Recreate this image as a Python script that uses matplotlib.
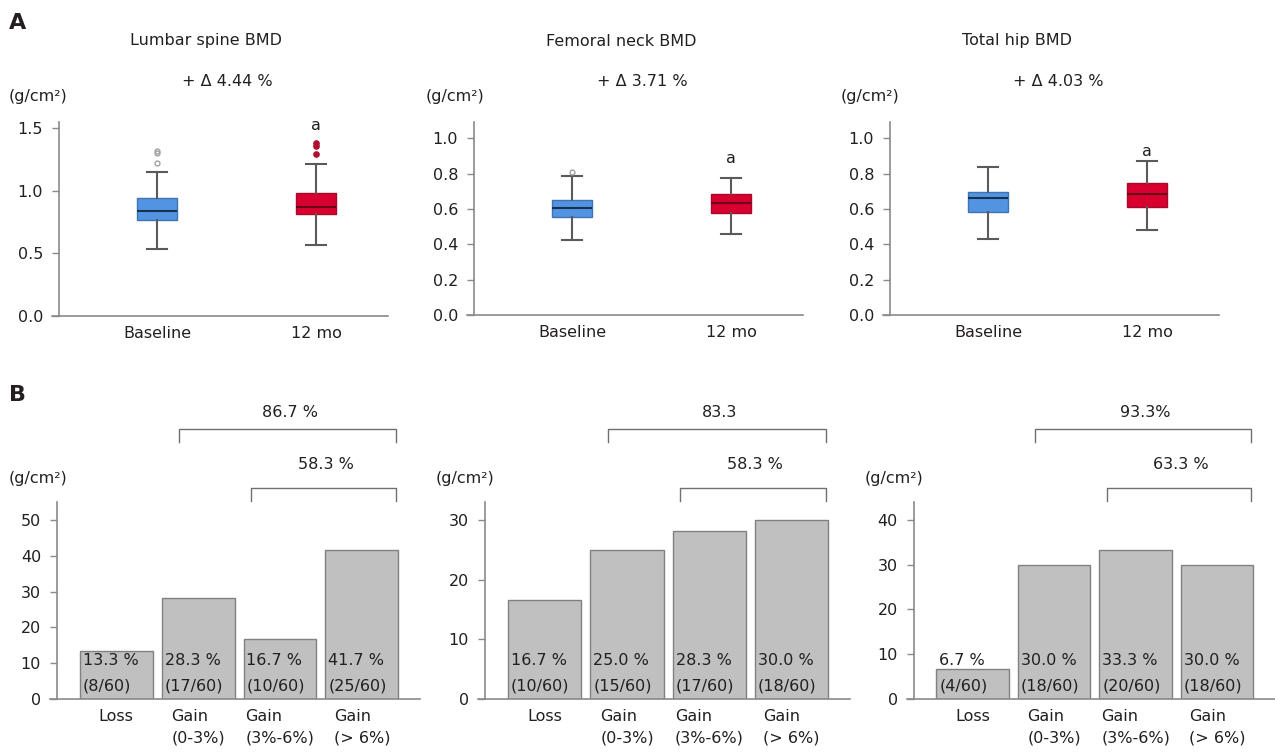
import matplotlib.pyplot as plt
import matplotlib.transforms as mtransforms

W, H = 1275, 753
TXT = "#231f20"
SPINE = "#8a8a8a"

# --- panel A: box plot summaries (g/cm2) ---
box_titles = ["Lumbar spine BMD", "Femoral neck BMD", "Total hip BMD"]
box_deltas = ["+ \u0394 4.44 %", "+ \u0394 3.71 %", "+ \u0394 4.03 %"]
box_groups = ["Baseline", "12 mo"]
# whislo, q1, median, q3, whishi
baseline_stats = [
    [0.535, 0.766, 0.84, 0.94, 1.15],
    [0.424, 0.555, 0.604, 0.649, 0.788],
    [0.432, 0.583, 0.660, 0.698, 0.839],
]
month12_stats = [
    [0.57, 0.81, 0.87, 0.98, 1.21],
    [0.458, 0.579, 0.634, 0.683, 0.777],
    [0.479, 0.611, 0.683, 0.747, 0.870],
]
baseline_fliers = [[1.22, 1.30, 1.32], [0.811], []]
month12_fliers = [[1.29, 1.36, 1.38], [], []]
box_yticks = [[0.0, 0.5, 1.0, 1.5], [0.0, 0.2, 0.4, 0.6, 0.8, 1.0], [0.0, 0.2, 0.4, 0.6, 0.8, 1.0]]
box_ytop = [1.548, 1.094, 1.094]
a_mark_y = [1.524, 0.888, 0.928]

# --- panel B: percentage of patients per change category ---
bar_cats = ["Loss", "Gain\n(0-3%)", "Gain\n(3%-6%)", "Gain\n(> 6%)"]
bar_values = [
    [13.3, 28.3, 16.7, 41.7],
    [16.7, 25.0, 28.3, 30.0],
    [6.7, 30.0, 33.3, 30.0],
]
bar_counts = [
    ["(8/60)", "(17/60)", "(10/60)", "(25/60)"],
    ["(10/60)", "(15/60)", "(17/60)", "(18/60)"],
    ["(4/60)", "(18/60)", "(20/60)", "(18/60)"],
]
bar_yticks = [[0, 10, 20, 30, 40, 50], [0, 10, 20, 30], [0, 10, 20, 30, 40]]
bar_ytop = [55.1, 33.1, 44.0]
upper_labels = ["86.7 %", "83.3", "93.3%"]
lower_labels = ["58.3 %", "58.3 %", "63.3 %"]

plt.rcParams["font.family"] = ["DejaVu Sans"]
plt.rcParams["font.size"] = 11.5
plt.rcParams["text.color"] = TXT

fig = plt.figure(figsize=(W / 100, H / 100), dpi=100)


def px_axes(left, bottom_y, width, height):
    return fig.add_axes([left / W, 1 - bottom_y / H, width / W, height / H])


def ftext(x, y, s, **kw):
    fig.text(x / W, 1 - y / H, s, **kw)


def style_axes(ax, spine_frac):
    for side in ("top", "right"):
        ax.spines[side].set_visible(False)
    ax.spines["left"].set_position(("axes", spine_frac))
    for side in ("left", "bottom"):
        ax.spines[side].set_color(SPINE)
        ax.spines[side].set_linewidth(1.2)
    ax.tick_params(axis="y", length=5, width=1, color=SPINE, pad=6.5,
                   labelsize=11.5, labelcolor=TXT)
    ax.tick_params(axis="x", length=0, pad=7, labelsize=11.5, labelcolor=TXT)


# ---------------- row A ----------------
box_left = [52, 467, 883]
box_bottom = [316, 315, 315]
box_height = [194, 193.3, 193.3]
box_colors = ["#5294e2", "#d7002f"]
box_edges = ["#3f74b4", "#a8082c"]
median_colors = ["#17324f", "#6a0018"]
flier_styles = [
    dict(marker="o", markersize=3.5, markerfacecolor="none", markeredgecolor="#a0a0a0", markeredgewidth=1),
    dict(marker="o", markersize=3.8, markerfacecolor="#b0102f", markeredgecolor="#b0102f"),
]

for i in range(3):
    ax = px_axes(box_left[i], box_bottom[i], 336, box_height[i])
    style_axes(ax, 7 / 336)
    groups = [(baseline_stats[i], baseline_fliers[i]), (month12_stats[i], month12_fliers[i])]
    for j, (st, fl) in enumerate(groups):
        stats = [dict(whislo=st[0], q1=st[1], med=st[2], q3=st[3], whishi=st[4], fliers=fl)]
        ax.bxp(stats, positions=[j], widths=0.25, capwidths=0.125, patch_artist=True,
               boxprops=dict(facecolor=box_colors[j], edgecolor=box_edges[j], linewidth=1),
               medianprops=dict(color=median_colors[j], linewidth=1.5),
               whiskerprops=dict(color="#5a5a5a", linewidth=1.5),
               capprops=dict(color="#5a5a5a", linewidth=1.5),
               flierprops=flier_styles[j])
    ax.set_xlim(-0.66, 1.453)
    ax.set_ylim(0, box_ytop[i])
    ax.set_yticks(box_yticks[i])
    ax.set_yticklabels([f"{v:.1f}" for v in box_yticks[i]])
    ax.set_xticks([0, 1])
    ax.set_xticklabels(box_groups)
    ax.text(1, a_mark_y[i], "a", ha="center", va="center", fontsize=11.5)

title_x = [206, 621, 1017]
delta_x = [227, 642, 1058]
unit_x = [38, 455, 870]
for i in range(3):
    ftext(title_x[i], 41, box_titles[i], ha="center", va="center")
    ftext(delta_x[i], 82, box_deltas[i], ha="center", va="center")
    ftext(unit_x[i], 96, "(g/cm\u00b2)", ha="center", va="center")

# ---------------- row B ----------------
bar_left = [50, 478, 906.7]
bar_width_px = [370, 372, 368.3]
bar_unit_x = [38, 465, 894]
for i in range(3):
    ax = px_axes(bar_left[i], 699, bar_width_px[i], 197)
    style_axes(ax, 7 / bar_width_px[i])
    ax.tick_params(axis="x", pad=7)
    xs = list(range(len(bar_cats)))
    ax.bar(xs, bar_values[i], width=0.89, color="#c0c0c0", edgecolor="#808080", linewidth=1)
    ax.set_xlim(-0.81, 3.71)
    ax.set_ylim(0, bar_ytop[i])
    ax.set_yticks(bar_yticks[i])
    ax.set_xticks(xs)
    ax.set_xticklabels(bar_cats, multialignment="left", linespacing=1.55)
    tr = mtransforms.blended_transform_factory(ax.transData, ax.transAxes)
    for j, x in enumerate(xs):
        ax.text(x - 0.41, 0.193, f"{bar_values[i][j]:.1f} %", transform=tr,
                ha="left", va="center", fontsize=11.5)
        ax.text(x - 0.41, 0.066, bar_counts[i][j], transform=tr,
                ha="left", va="center", fontsize=11.5)
    ax.plot([0.765, 0.765, 3.42, 3.42], [1.305, 1.371, 1.371, 1.305], color="#707070",
            lw=1, transform=tr, clip_on=False)
    ax.plot([1.65, 1.65, 3.42, 3.42], [1.005, 1.071, 1.071, 1.005], color="#707070",
            lw=1, transform=tr, clip_on=False)
    ax.text(2.12, 1.452, upper_labels[i], transform=tr, ha="center", va="center")
    ax.text(2.56, 1.188, lower_labels[i], transform=tr, ha="center", va="center")
    ftext(bar_unit_x[i], 479, "(g/cm\u00b2)", ha="center", va="center")

ftext(9, 23, "A", ha="left", va="center", fontsize=16, fontweight="bold")
ftext(9, 395, "B", ha="left", va="center", fontsize=16, fontweight="bold")

fig.savefig("out.png", dpi=100)
